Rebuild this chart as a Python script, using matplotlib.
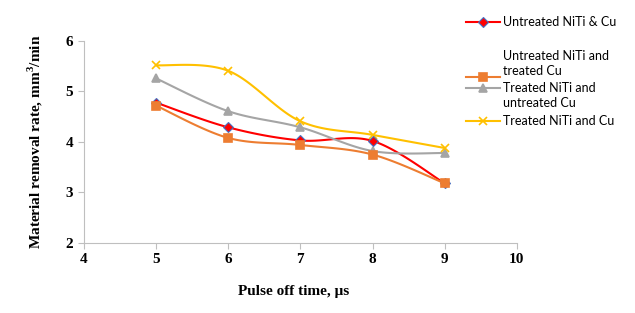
import matplotlib.pyplot as plt
import numpy as np
from matplotlib.lines import Line2D

plt.rcParams['mathtext.fontset'] = 'custom'
plt.rcParams['mathtext.rm'] = 'Liberation Serif:bold'
plt.rcParams['mathtext.bf'] = 'Liberation Serif:bold'

# pulse off time (us)
pulse_off = [5, 6, 7, 8, 9]
# material removal rate (mm3/min)
mrr_untreated = [4.78, 4.29, 4.03, 4.02, 3.18]
mrr_unt_niti_treat_cu = [4.72, 4.08, 3.94, 3.75, 3.18]
mrr_treat_niti_unt_cu = [5.26, 4.61, 4.29, 3.82, 3.78]
mrr_treated = [5.52, 5.41, 4.41, 4.14, 3.88]

labels = ['Untreated NiTi & Cu', 'Untreated NiTi and\ntreated Cu',
          'Treated NiTi and\nuntreated Cu', 'Treated NiTi and Cu']
colors = ['#ff0000', '#ed7d31', '#a5a5a5', '#ffc000']
markers = ['D', 's', '^', 'x']


def smooth(x, y, n=30):
    # excel-like smoothed line (bezier through the points)
    x = np.asarray(x, float)
    y = np.asarray(y, float)
    px = np.concatenate([[x[0]], x, [x[-1]]])
    py = np.concatenate([[y[0]], y, [y[-1]]])
    t = np.linspace(0, 1, n)
    xs, ys = [], []
    for i in range(len(x) - 1):
        p0 = np.array([px[i + 1], py[i + 1]])
        p3 = np.array([px[i + 2], py[i + 2]])
        p1 = p0 + (np.array([px[i + 2], py[i + 2]]) - np.array([px[i], py[i]])) / 6
        p2 = p3 - (np.array([px[i + 3], py[i + 3]]) - np.array([px[i + 1], py[i + 1]])) / 6
        b = ((1 - t) ** 3)[:, None] * p0 + (3 * (1 - t) ** 2 * t)[:, None] * p1 \
            + (3 * (1 - t) * t ** 2)[:, None] * p2 + (t ** 3)[:, None] * p3
        xs.extend(b[:, 0])
        ys.extend(b[:, 1])
    return np.array(xs), np.array(ys)


fig = plt.figure(figsize=(6.35, 3.13), dpi=100)
ax = fig.add_axes([0.132, 0.224, 0.682, 0.645])

series = [mrr_untreated, mrr_unt_niti_treat_cu, mrr_treat_niti_unt_cu, mrr_treated]
order = [2, 3, 1, 0]
for i in order:
    sx, sy = smooth(pulse_off, series[i])
    ax.plot(sx, sy, color=colors[i], lw=1.5, zorder=2 + i * 0.1)
for i in [2, 3, 0, 1]:
    ms = 5 if markers[i] == 'D' else 6
    mec = '#4472c4' if i == 0 else colors[i]
    ax.plot(pulse_off, series[i], ls='none', marker=markers[i], color=colors[i],
            ms=ms, mec=mec, mew=0.8 if i == 0 else 1.2, zorder=4)

ax.set_xlim(4, 10)
ax.set_ylim(2, 6)
ax.set_xticks(range(4, 11))
ax.set_yticks(range(2, 7))
for s in ['top', 'right']:
    ax.spines[s].set_visible(False)
for s in ['left', 'bottom']:
    ax.spines[s].set_color('#bfbfbf')
ax.tick_params(colors='#bfbfbf', length=4, labelcolor='black')
for lab in ax.get_xticklabels() + ax.get_yticklabels():
    lab.set_fontfamily('Liberation Serif')
    lab.set_fontweight('bold')
    lab.set_fontsize(11)
ax.set_xlabel('Pulse off time, \u03bcs', fontfamily='Liberation Serif',
              fontweight='bold', fontsize=11)
ax.xaxis.set_label_coords(0.485, -0.21, transform=ax.transAxes)
ax.xaxis.label.set_va('top')
ax.set_ylabel('Material removal rate, mm$^{3}$/min', fontfamily='Liberation Serif',
              fontweight='bold', fontsize=11, labelpad=15)

# legend drawn by hand to match the layout
leg_marker_y = [22, 77, 88, 121]
leg_text_y = [22, 63, 95, 121]
for i in range(4):
    ym = 1 - leg_marker_y[i] / 313
    fig.add_artist(Line2D([466 / 635, 500 / 635], [ym, ym], color=colors[i], lw=1.5,
                          transform=fig.transFigure))
    fig.add_artist(Line2D([483 / 635], [ym], marker=markers[i], color=colors[i],
                          ms=5 if i == 0 else 6,
                          mec='#4472c4' if i == 0 else colors[i],
                          mew=0.8 if i == 0 else 1.2, transform=fig.transFigure))
    fig.text(503 / 635, 1 - leg_text_y[i] / 313, labels[i], fontfamily='Lato',
             fontsize=9, va='center', ha='left', linespacing=1.3)

fig.savefig('out.png', dpi=100)
